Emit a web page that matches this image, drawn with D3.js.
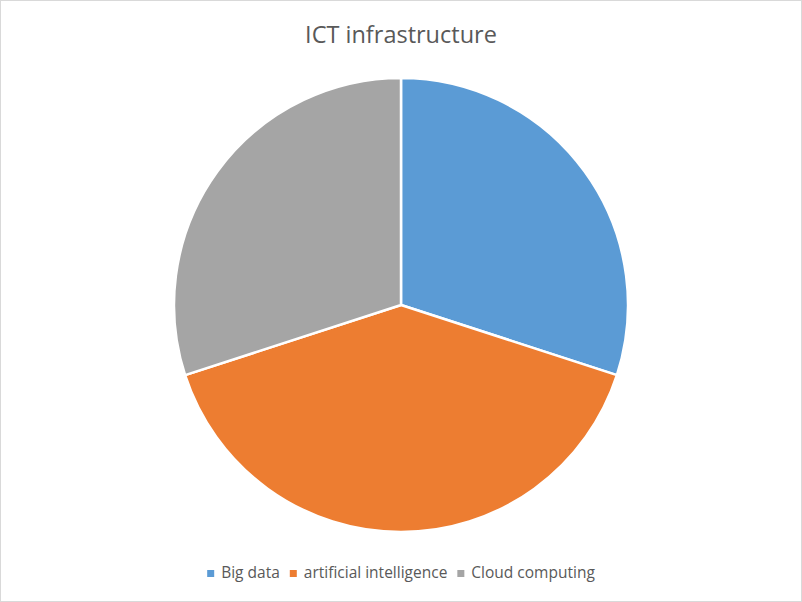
<!DOCTYPE html>
<html><head><meta charset="utf-8">
<script src="https://cdn.jsdelivr.net/npm/d3@7"></script>
<style>body{margin:0;background:#fff}svg{display:block}</style>
</head><body>
<svg id="c" width="802" height="602"></svg>
<script>
const categories = ["Big data", "artificial intelligence", "Cloud computing"];
const values = [30, 40, 30];
const colors = ["#5B9BD5", "#ED7D31", "#A5A5A5"];
const title = "ICT infrastructure";

const svg = d3.select("#c");
svg.append("rect").attr("x",0.5).attr("y",0.5).attr("width",801).attr("height",601)
  .attr("fill","#fff").attr("stroke","#D9D9D9");
svg.append("text").attr("x",401).attr("y",43).attr("text-anchor","middle")
  .attr("font-family","'Open Sans', sans-serif").attr("font-size",23.5).attr("fill","#595959")
  .text(title);

const cx = 401, cy = 305, r = 227;
const pie = d3.pie().sort(null).value(d => d)(values);
const arc = d3.arc().innerRadius(0).outerRadius(r);
const color = d3.scaleOrdinal().domain(categories).range(colors);
svg.append("g").attr("transform",`translate(${cx},${cy})`)
  .selectAll("path").data(pie).join("path")
  .attr("d", arc).attr("fill",(d,i)=>color(categories[i]))
  .attr("stroke","#fff").attr("stroke-width",2.5).attr("stroke-linejoin","round");

// legend
const lg = svg.append("g");
const fs = 15.5;
const items = lg.selectAll("g").data(categories).join("g");
items.append("rect").attr("width",7).attr("height",7).attr("y",-8).attr("fill",d=>color(d));
items.append("text").attr("x",14).attr("y",0).attr("font-family","'Open Sans', sans-serif")
  .attr("font-size",fs).attr("fill","#595959").text(d=>d);
let x = 0; const pos=[];
items.each(function(){ pos.push(x); const w=this.querySelector("text").getComputedTextLength(); x += 14 + w + 10; });
const total = x - 10;
const start = 401 - total/2;
items.attr("transform",(d,i)=>`translate(${start+pos[i]},578)`);
</script>
</body></html>
